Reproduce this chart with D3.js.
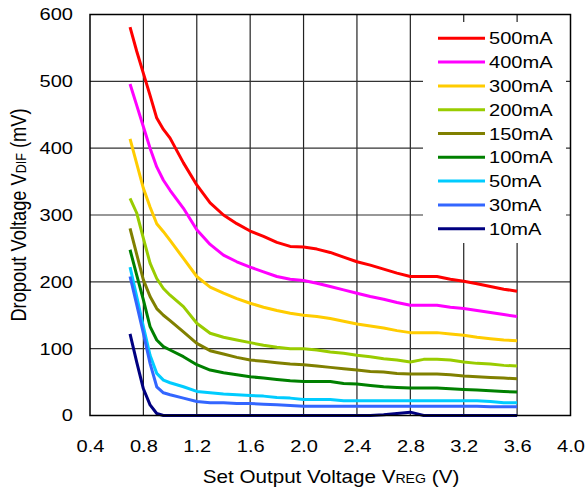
<!DOCTYPE html>
<html><head><meta charset="utf-8">
<script src="https://cdn.jsdelivr.net/npm/d3@7"></script>
<style>body{margin:0;background:#fff}svg{display:block}text{font-family:"Liberation Sans",Arial,sans-serif;fill:#000}</style>
</head><body><div id="chart"></div>
<script>
const voltage = [0.7,0.75,0.8,0.85,0.9,0.95,1.0,1.1,1.2,1.3,1.4,1.5,1.6,1.7,1.8,1.9,2.0,2.1,2.2,2.3,2.4,2.5,2.6,2.7,2.8,2.9,3.0,3.1,3.2,3.3,3.4,3.5,3.6];
const i500 = [581,545,512,479,445,428,415,378,345,318,300,287,276,268,259,253,252,249,244,237,230,225,219,213,208,208,208,204,201,197,193,189,186];
const i400 = [496,464,432,400,372,352,337,310,278,256,240,230,222,215,208,204,202,198,193,188,183,178,174,169,165,165,165,162,160,157,154,151,148];
const i300 = [414,377,340,312,287,275,262,235,208,192,183,175,168,162,157,153,150,148,145,141,137,134,131,127,124,124,124,122,120,117,115,113,112];
const i200 = [325,303,265,228,205,190,180,163,138,123,117,113,109,105,102,100,100,98,95,93,90,88,85,83,80,84,84,83,80,78,77,75,74];
const i150 = [280,241,203,178,160,150,142,125,108,97,92,87,83,81,79,77,76,74,72,70,68,66,65,63,62,62,62,61,59,58,57,56,55];
const i100 = [248,210,173,133,113,103,98,88,76,68,64,61,58,56,54,52,51,51,51,48,47,45,43,42,41,41,41,40,39,38,37,36,35];
const i50  = [222,178,133,90,63,53,49,43,36,34,32,31,30,29,27,26,24,24,24,22,22,22,22,22,22,22,22,22,22,22,21,19,19];
const i30  = [208,166,123,78,43,34,31,26,21,19,19,18,18,17,16,15,14,14,14,14,14,14,14,14,14,14,14,14,14,14,13,13,13];
const i10  = [122,80,40,16,3,0,0,0,0,0,0,0,0,0,0,0,0,0,0,0,0,0,1,3,5,0,0,0,0,0,0,0,0];
const seriesNames = ["500mA","400mA","300mA","200mA","150mA","100mA","50mA","30mA","10mA"];
const seriesColors = ["#FF0000","#FF00FF","#FFCC00","#99CC00","#808000","#008000","#00CCFF","#3366FF","#000080"];
const xTicks = [0.4,0.8,1.2,1.6,2.0,2.4,2.8,3.2,3.6,4.0];
const yTicks = [0,100,200,300,400,500,600];
const seriesValues = [i500,i400,i300,i200,i150,i100,i50,i30,i10];

const W = 587, H = 489, SX = 1.18, FS = 17;
const m = {l:90, r:16.5, t:14.5, b:73.5};
const svg = d3.select("#chart").append("svg").attr("width",W).attr("height",H);
const x = d3.scaleLinear().domain([0.4,4.0]).range([m.l, W-m.r]);
const y = d3.scaleLinear().domain([0,600]).range([H-m.b, m.t]);

// grid
const g = svg.append("g");
g.selectAll("line.v").data(xTicks.slice(1,-1)).join("line")
  .attr("x1",d=>x(d)).attr("x2",d=>x(d)).attr("y1",y(0)).attr("y2",y(600))
  .attr("stroke","#222").attr("stroke-width",1.2);
g.selectAll("line.h").data(yTicks.slice(1,-1)).join("line")
  .attr("x1",x(0.4)).attr("x2",x(4.0)).attr("y1",d=>y(d)).attr("y2",d=>y(d))
  .attr("stroke","#333").attr("stroke-width",1.2);

// legend background
svg.append("rect").attr("x",423).attr("y",22).attr("width",143).attr("height",221).attr("fill","#fff");

// lines
const line = d3.line().x((d,i)=>x(voltage[i])).y(d=>y(d));
seriesValues.forEach((vals,k)=>{
  svg.append("path").datum(vals).attr("d",line).attr("fill","none")
    .attr("stroke",seriesColors[k]).attr("stroke-width",3).attr("stroke-linejoin","round");
});

// frame
svg.append("rect").attr("x",x(0.4)).attr("y",y(600)).attr("width",x(4.0)-x(0.4)).attr("height",y(0)-y(600))
  .attr("fill","none").attr("stroke","#000").attr("stroke-width",1.5);

// axes
const xa = svg.append("g").attr("transform",`translate(0,${y(0)})`)
  .call(d3.axisBottom(x).tickValues(xTicks).tickFormat(d3.format(".1f")).tickSize(0).tickPadding(24.5));
const ya = svg.append("g").attr("transform",`translate(${x(0.4)},0)`)
  .call(d3.axisLeft(y).tickValues(yTicks).tickFormat(d3.format("d")).tickSize(0).tickPadding(17/SX));
[xa,ya].forEach(a=>{a.select(".domain").remove();
  a.selectAll("text").attr("font-size",FS).attr("font-family",'"Liberation Sans",Arial,sans-serif')
   .attr("fill","#000").attr("transform",`scale(${SX},1)`);});

// stretched text helper
function stext(px,py,size,anchor){
  return svg.append("text").attr("transform",`translate(${px},${py}) scale(${SX},1)`)
    .attr("font-size",size).attr("text-anchor",anchor||"start");
}

// legend
seriesNames.forEach((n,k)=>{
  const yy = 38.3 + k*23.8;
  svg.append("line").attr("x1",438).attr("x2",485).attr("y1",yy).attr("y2",yy)
    .attr("stroke",seriesColors[k]).attr("stroke-width",3);
  stext(489,yy+6,FS).text(n);
});

// axis titles
const xt = stext(331,483,17.5,"middle");
xt.append("tspan").text("Set Output Voltage V");
xt.append("tspan").attr("font-size",12).text("REG");
xt.append("tspan").text(" (V)");
const yt = svg.append("text").attr("transform",`translate(26,215) scale(${SX},1) rotate(-90)`)
  .attr("text-anchor","middle").attr("font-size",18.3);
yt.append("tspan").text("Dropout Voltage V");
yt.append("tspan").attr("font-size",12.5).text("DIF");
yt.append("tspan").text(" (mV)");
</script></body></html>
